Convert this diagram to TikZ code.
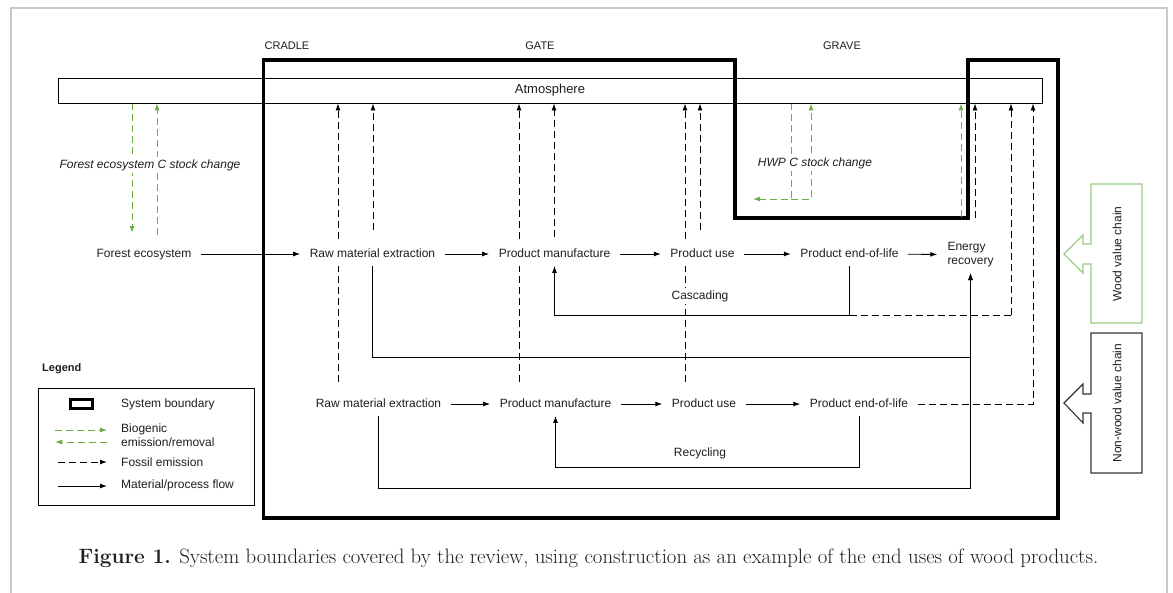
\documentclass[tikz,border=0pt]{standalone}
\usepackage{fontspec}
\newfontfamily\dsf{Liberation Sans}
\usetikzlibrary{arrows.meta}
\definecolor{bio}{HTML}{6AAE45}
\definecolor{woodg}{HTML}{9CCB84}
\definecolor{frameg}{HTML}{C8C8C8}
\definecolor{txt}{HTML}{1E1E1E}
\pgfdeclarelayer{bg}
\pgfsetlayers{bg,main}
\begin{document}
\begin{tikzpicture}[x=1pt,y=-1pt,
  lbl/.style={font=\dsf\fontsize{12}{14}\selectfont, text=txt, fill=white, inner xsep=9.5pt, inner ysep=6pt, text height=9pt, text depth=2.5pt},
  tag/.style={font=\dsf\fontsize{12}{14}\selectfont, text=txt, fill=white, inner xsep=3pt, inner ysep=2pt},
  itag/.style={font=\dsf\itshape\fontsize{12}{14}\selectfont, text=txt, fill=white, inner xsep=3pt, inner ysep=2pt},
  hdr/.style={font=\dsf\fontsize{11}{13}\selectfont, text=txt},
  legtxt/.style={font=\dsf\fontsize{12}{14}\selectfont, text=txt, anchor=west, inner sep=0pt, align=left},
  tip/.style={-{Latex[length=7pt,width=5pt]}},
  flow/.style={draw=black, line width=0.9pt, tip},
  fossil/.style={flow, dash pattern=on 7pt off 4pt},
  biog/.style={draw=bio, line width=1pt, dash pattern=on 7pt off 4pt, tip},
  bnd/.style={draw=black, line width=3.2pt, line join=miter}]
\useasboundingbox (0,0) rectangle (1173,592);

% headers
\node[hdr] (cradle) at (287,46) {CRADLE};
\node[hdr] (gate) at (540,46) {GATE};
\node[hdr] (grave) at (842,46) {GRAVE};

% atmosphere
\node[draw=black, line width=0.9pt, minimum width=984pt, minimum height=25pt, inner sep=0pt,
      font=\dsf\fontsize{13}{15}\selectfont, text=txt] (atm) at (550,90.5) {Atmosphere};

% process nodes
\node[lbl] (forest) at (144,254) {Forest ecosystem};
\node[lbl] (rme1) at (372.5,254) {Raw material extraction};
\node[lbl] (pm1) at (554.5,254) {Product manufacture};
\node[lbl] (pu1) at (702.5,254) {Product use};
\node[lbl] (peol1) at (849.5,254) {Product end-of-life};
\node[font=\dsf\fontsize{12}{14}\selectfont, text=txt, fill=white, align=left, inner xsep=10pt, inner ysep=6pt] (er) at (970.5,254.5) {Energy\\recovery};
\node[lbl] (rme2) at (378.5,404) {Raw material extraction};
\node[lbl] (pm2) at (555.5,404) {Product manufacture};
\node[lbl] (pu2) at (704,404) {Product use};
\node[lbl] (peol2) at (859,404) {Product end-of-life};

\node[tag] (casc) at (700,296) {Cascading};
\node[tag] (recyc) at (700,453) {Recycling};
\node[itag] (fcs) at (150,165) {Forest ecosystem C stock change};
\node[itag] (hwp) at (815,163) {HWP C stock change};

% coordinates for free ends
\coordinate (fs1) at (338,382);
\coordinate (fs2) at (373,230);
\coordinate (fs3) at (519,382);
\coordinate (fs4) at (554,237);
\coordinate (fs5) at (685,382);
\coordinate (fs6) at (700,230);
\coordinate (fs7) at (975,218);
\coordinate (bg1) at (961,217);
\coordinate (fd) at (132,233);
\coordinate (fu) at (157,235);
\coordinate (h1) at (791,199);
\coordinate (h2) at (753,199);
\coordinate (h3) at (811,199);
\coordinate (c1) at (849.5,315);
\coordinate (c2) at (1011,315);
\coordinate (r1) at (372.5,357);
\coordinate (r2) at (378.5,488);
\coordinate (y1) at (859,467);
\coordinate (p1) at (1033,404);

% legend
\node[font=\dsf\bfseries\fontsize{11}{13}\selectfont, text=txt, anchor=west, inner sep=0pt] (legt) at (42,369) {Legend};
\node[draw=black, line width=0.9pt, minimum width=216pt, minimum height=117pt, anchor=north west, inner sep=0pt] (legbox) at (38,388) {};
\node[draw=black, line width=2.7pt, minimum width=22pt, minimum height=9pt, inner sep=0pt] (lsym) at (81.8,404.2) {};
\node[legtxt] (l1) at (121,404) {System boundary};
\node[legtxt] (l2) at (121,435) {Biogenic\\emission/removal};
\node[legtxt] (l3) at (121,462) {Fossil emission};
\node[legtxt] (l4) at (121,485) {Material/process flow};
\coordinate (la1) at (55,430); \coordinate (lb1) at (107,430);
\coordinate (la2) at (107,442); \coordinate (lb2) at (55,442);
\coordinate (la3) at (58,462); \coordinate (lb3) at (107,462);
\coordinate (la4) at (58,486); \coordinate (lb4) at (107,486);

% value chain arrows
\draw[woodg, line width=1.1pt] (1091,184) -- (1142,184) -- (1142,323) -- (1091,323) -- (1091,264) -- (1083,264) -- (1083,273) -- (1064,254) -- (1083,235) -- (1083,244) -- (1091,244) -- cycle;
\draw[black!80, line width=1.1pt] (1091,333) -- (1142,333) -- (1142,473) -- (1091,473) -- (1091,413) -- (1083,413) -- (1083,423) -- (1064,403) -- (1083,384) -- (1083,394) -- (1091,394) -- cycle;
\node[rotate=90, font=\dsf\fontsize{12}{14}\selectfont, text=txt] (wood) at (1117,254) {Wood value chain};
\node[rotate=90, font=\dsf\fontsize{12}{14}\selectfont, text=txt] (nonwood) at (1117,403) {Non-wood value chain};

% caption
\node[font=\fontsize{20.8}{24}\selectfont, text=txt] (cap) at (588.5,558) {\textbf{Figure 1.} System boundaries covered by the review, using construction as an example of the end uses of wood products.};

\begin{pgfonlayer}{bg}
\fill[white] (0,0) rectangle (1173,592);
\draw[frameg, line width=1.5pt] (11,600) -- (11,8) -- (1167,8) -- (1167,600);
% system boundary
\draw[bnd] (263.5,60) -- (735,60) -- (735,218) -- (968,218) -- (968,60) -- (1058,60) -- (1058,518) -- (263.5,518) -- cycle;
% material flows
\draw[flow] (forest) -- (rme1);
\draw[flow] (rme1) -- (pm1);
\draw[flow] (pm1) -- (pu1);
\draw[flow] (pu1) -- (peol1);
\draw[flow] (peol1) -- (er);
\draw[flow] (rme2) -- (pm2);
\draw[flow] (pm2) -- (pu2);
\draw[flow] (pu2) -- (peol2);
\draw[flow] (peol1.south) -- (c1) -| (pm1.south);
\draw[fossil, -] (c1) -- (c2);
\draw[fossil] (c2) -- (c2 |- atm.south);
\draw[flow] (rme1.south) -- (r1) -| (er.south);
\draw[flow] (rme2.south) -- (r2) -| (er.south);
\draw[flow] (peol2.south) -- (y1) -| (pm2.south);
\draw[fossil] (peol2.east) -- (p1) -- (p1 |- atm.south);
% fossil emissions
\foreach \c in {fs1,fs2,fs3,fs4,fs5,fs6,fs7}{\draw[fossil] (\c) -- (\c |- atm.south);}
% biogenic
\draw[biog] (bg1) -- (bg1 |- atm.south);
\draw[biog] (fd |- atm.south) -- (fd);
\draw[biog] (fu) -- (fu |- atm.south);
\draw[biog] (h1 |- atm.south) -- (h1) -- (h2);
\draw[biog] (h1) -- (h3) -- (h3 |- atm.south);
% legend symbols
\draw[biog] (la1) -- (lb1);
\draw[biog] (la2) -- (lb2);
\draw[fossil] (la3) -- (lb3);
\draw[flow] (la4) -- (lb4);
\end{pgfonlayer}
\end{tikzpicture}
\end{document}
